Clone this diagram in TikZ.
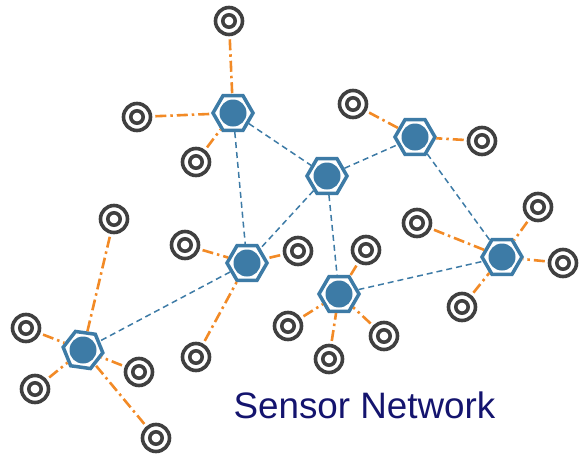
\documentclass[tikz,border=0pt]{standalone}
\usepackage{fontspec}
\setmainfont{Liberation Sans}
\usetikzlibrary{shapes.geometric}
\definecolor{hubblue}{HTML}{3D7BA6}
\definecolor{linkorange}{HTML}{F28A26}
\definecolor{ringgray}{HTML}{404040}
\definecolor{titlenavy}{HTML}{14146E}
\tikzset{
  hub/.style={regular polygon,regular polygon sides=6,draw=hubblue,line width=3.5pt,
    minimum size=40pt,inner sep=0pt,fill=white,
    path picture={\fill[hubblue] (path picture bounding box.center) circle (13.5pt);}},
  sensor/.style={circle,draw=ringgray,line width=3.6pt,minimum size=27pt,inner sep=0pt,fill=white,
    path picture={\draw[ringgray,line width=3.6pt] (path picture bounding box.center) circle (6.2pt);}},
  link/.style={hubblue,line width=1.5pt,dash pattern=on 6pt off 4pt},
  feed/.style={linkorange,line width=2.6pt,dash pattern=on 11pt off 4pt on 2.5pt off 4pt,shorten <=3pt}
}
\begin{document}
\begin{tikzpicture}[x=1pt,y=-1pt]
\useasboundingbox (0,0) rectangle (579,456);
% hubs
\node (h1) at (233,113) [hub] {};
\node (h2) at (327,176) [hub] {};
\node (h3) at (415,137) [hub] {};
\node (h4) at (247,263) [hub] {};
\node (h5) at (339,294) [hub] {};
\node (h6) at (502,257) [hub] {};
\node (h7) at (83,350) [hub,shape border rotate=-8] {};
% sensors
\node (s1a) at (229,21) [sensor] {};
\node (s1b) at (137,117) [sensor] {};
\node (s1c) at (196,162) [sensor] {};
\node (s3a) at (353,104) [sensor] {};
\node (s3b) at (482,141) [sensor] {};
\node (s4a) at (185,245) [sensor] {};
\node (s4b) at (298,251) [sensor] {};
\node (s4c) at (196,357) [sensor] {};
\node (s5a) at (366,250) [sensor] {};
\node (s5b) at (288,326) [sensor] {};
\node (s5c) at (384,336) [sensor] {};
\node (s5d) at (329,359) [sensor] {};
\node (s6a) at (417,223) [sensor] {};
\node (s6b) at (538,207) [sensor] {};
\node (s6c) at (563,263) [sensor] {};
\node (s6d) at (462,307) [sensor] {};
\node (s7a) at (114,219) [sensor] {};
\node (s7b) at (26,328) [sensor] {};
\node (s7c) at (35,389) [sensor] {};
\node (s7d) at (139,372) [sensor] {};
\node (s7e) at (156,438) [sensor] {};
% hub to hub
\draw [link] (h1) -- (h2);
\draw [link] (h1) -- (h4);
\draw [link] (h2) -- (h3);
\draw [link] (h2) -- (h4);
\draw [link] (h2) -- (h5);
\draw [link] (h3) -- (h6);
\draw [link] (h4) -- (h7);
\draw [link] (h5) -- (h6);
% sensor to hub
\draw [feed] (s1a) -- (h1);
\draw [feed] (s1b) -- (h1);
\draw [feed] (s1c) -- (h1);
\draw [feed] (s3a) -- (h3);
\draw [feed] (s3b) -- (h3);
\draw [feed] (s4a) -- (h4);
\draw [feed] (s4b) -- (h4);
\draw [feed] (s4c) -- (h4);
\draw [feed] (s5a) -- (h5);
\draw [feed] (s5b) -- (h5);
\draw [feed] (s5c) -- (h5);
\draw [feed] (s5d) -- (h5);
\draw [feed] (s6a) -- (h6);
\draw [feed] (s6b) -- (h6);
\draw [feed] (s6c) -- (h6);
\draw [feed] (s6d) -- (h6);
\draw [feed] (s7a) -- (h7);
\draw [feed] (s7b) -- (h7);
\draw [feed] (s7c) -- (h7);
\draw [feed] (s7d) -- (h7);
\draw [feed] (s7e) -- (h7);
\node (title) at (364.5,405) [text=titlenavy,font=\fontsize{36.8}{40}\selectfont] {Sensor Network};
\end{tikzpicture}
\end{document}
